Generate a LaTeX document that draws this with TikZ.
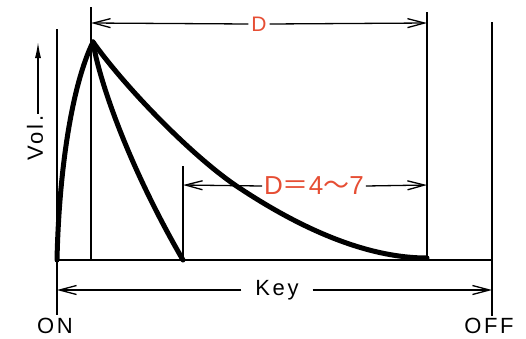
\documentclass[tikz,border=0pt]{standalone}
\usepackage{fontspec}
\setmainfont{Liberation Sans}[LetterSpace=12]
\newfontfamily\cjk{Noto Sans CJK JP}
\usetikzlibrary{arrows.meta}
\definecolor{dred}{RGB}{230,78,52}
\begin{document}
\begin{tikzpicture}[x=1pt,y=-1pt,
  thinline/.style={line width=1.4pt},
  baseln/.style={line width=2pt},
  curve/.style={line width=5pt, line cap=round, line join=round},
  dimline/.style={line width=1.3pt, -{Straight Barb[length=17pt,width=9pt,line width=1.3pt]}},
  lbl/.style={inner sep=0pt, outer sep=3pt, font=\fontsize{22}{22}\selectfont},
  redlbl/.style={lbl, text=dred}]
\useasboundingbox (0,0) rectangle (526,338);
% vertical reference lines
\coordinate (onT) at (57,29);   \coordinate (onB) at (57,315);
\coordinate (pkT) at (91,7);    \coordinate (pkB) at (91,260);
\coordinate (s2T) at (183,166); \coordinate (s2B) at (183,260);
\coordinate (dRT) at (427,12);  \coordinate (dRB) at (427,260);
\coordinate (offT) at (492,22); \coordinate (offB) at (492,316);
\coordinate (b0) at (57,260);   \coordinate (b1) at (492,260);
\draw[thinline] (onT) -- (onB);
\draw[thinline] (pkT) -- (pkB);
\draw[thinline] (s2T) -- (s2B);
\draw[thinline] (dRT) -- (dRB);
\draw[thinline] (offT) -- (offB);
\draw[baseln] (b0) -- (b1);
% envelope curves
\coordinate (pk) at (93,42);
\coordinate (mid) at (235,185);
\draw[curve] (b0) .. controls (59,170) and (72,85) .. (pk);
\draw[curve] (pk) .. controls (98,75) and (125,160) .. (s2B);
\draw[curve] (pk) .. controls (125,87) and (190,154) .. (mid)
                  .. controls (290,222) and (360,258) .. (427,258);
% D top
\node[redlbl, font=\fontsize{21}{21}\selectfont] (D) at (259,24) {D};
\coordinate (dA) at (91,23); \coordinate (dB) at (427,23);
\draw[dimline] (D.west) -- (dA);
\draw[dimline] (D.east) -- (dB);
% D = 4 ~ 7
\node[redlbl, outer sep=2pt, font=\fontsize{26}{26}\selectfont] (D2) at (314,186) {D{\cjk ＝}4{\cjk ～}7};
\coordinate (eA) at (183,185); \coordinate (eB) at (427,185);
\draw[dimline] (D2.west) -- (eA);
\draw[dimline] (D2.east) -- (eB);
% Key
\node[lbl, outer sep=14pt] (key) at (277,290) {Key};
\coordinate (kA) at (57,290); \coordinate (kB) at (492,290);
\draw[dimline] (key.west) -- (kA);
\draw[dimline] (key.east) -- (kB);
% ON / OFF
\node[lbl] (on) at (55,326) {ON};
\node[lbl] (off) at (489,326) {OFF};
% Vol.
\node[lbl, rotate=90, outer sep=2pt] (vol) at (35,138) {Vol.};
\coordinate (vtip) at (38,42);
\draw[line width=1.3pt, -{Latex[length=16pt,width=6pt]}] (vol.east -| vtip) -- (vtip);
\end{tikzpicture}
\end{document}
